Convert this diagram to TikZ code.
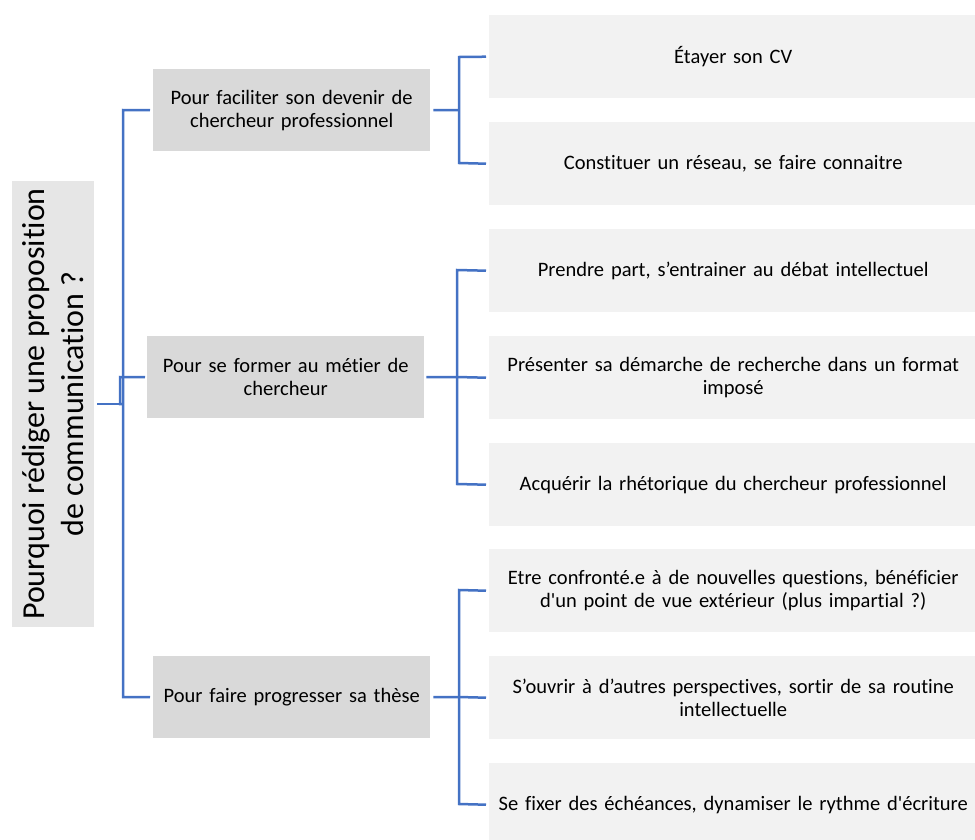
\documentclass[tikz,border=0pt]{standalone}
\usepackage{fontspec}
\setmainfont{Carlito}[Ligatures={TeX,NoCommon}]
\definecolor{lineblue}{HTML}{4472C4}
\definecolor{leafgray}{HTML}{F2F2F2}
\definecolor{midgray}{HTML}{D9D9D9}
\definecolor{rootgray}{HTML}{E6E6E6}
\begin{document}
\begin{tikzpicture}[x=1pt,y=-1pt,
  leaf/.style={fill=leafgray, inner sep=0pt, minimum width=488pt, minimum height=83pt,
    text width=480pt, align=center, anchor=north west, font=\fontsize{20.5}{23}\selectfont},
  mid/.style={fill=midgray, inner sep=0pt, minimum width=277pt, minimum height=82pt,
    text width=270pt, align=center, anchor=north west, font=\fontsize{20.5}{23}\selectfont},
  rootbox/.style={fill=rootgray, inner sep=0pt, minimum width=446pt, minimum height=82pt,
    align=center, rotate=90, font=\fontsize{32}{39}\selectfont},
  conn/.style={draw=lineblue, line width=2.5pt}]
\useasboundingbox (0,0) rectangle (975,839);

% root
\node[rootbox] (root) at (53,404) {Pourquoi rédiger une proposition\\de communication ?};

% middle level
\node[mid] (m1) at (153,69) {Pour faciliter son devenir de\\chercheur professionnel};
\node[mid] (m2) at (147,336) {Pour se former au métier de\\chercheur};
\node[mid] (m3) at (153,656) {Pour faire progresser sa thèse};

% leaves
\node[leaf] (l1) at (489,15)  {Étayer son CV};
\node[leaf] (l2) at (489,122) {Constituer un réseau, se faire connaitre};
\node[leaf] (l3) at (489,229) {Prendre part, s’entrainer au débat intellectuel};
\node[leaf] (l4) at (489,336) {Présenter sa démarche de recherche dans un format\\imposé};
\node[leaf] (l5) at (489,443) {Acquérir la rhétorique du chercheur professionnel};
\node[leaf] (l6) at (489,549) {Etre confronté.e à de nouvelles questions, bénéficier\\d\textquotesingle un point de vue extérieur (plus impartial ?)};
\node[leaf] (l7) at (489,656) {S’ouvrir à d’autres perspectives, sortir de sa routine\\intellectuelle};
\node[leaf] (l8) at (489,763) {Se fixer des échéances, dynamiser le rythme d\textquotesingle écriture};

% connectors root -> middle
\coordinate (r0) at ([xshift=3pt]root.south);
\draw[conn] (r0) -- (123,404);
\draw[conn] (123,404) -- (120,404) -- (120,377) -- ([xshift=-2pt]m2.west);
\draw[conn] ([xshift=-3pt]m1.west) -- (123,110) -- (123,697) -- ([xshift=-3pt]m3.west);

% middle 1 -> leaves
\draw[conn] ([xshift=3pt]m1.east) -- (459,110);
\draw[conn] ([xshift=-3pt]l1.west) -- (459,57) -- (459,163) -- ([xshift=-3pt]l2.west);

% middle 2 -> leaves
\draw[conn] ([xshift=2pt]m2.east) -- (457,377) -- ([xshift=-3pt]l4.west);
\draw[conn] ([xshift=-3pt]l3.west) -- (457,270) -- (457,484) -- ([xshift=-3pt]l5.west);

% middle 3 -> leaves
\draw[conn] ([xshift=3pt]m3.east) -- (459,697) -- ([xshift=-3pt]l7.west);
\draw[conn] ([xshift=-3pt]l6.west) -- (459,590) -- (459,804) -- ([xshift=-3pt]l8.west);
\end{tikzpicture}
\end{document}
